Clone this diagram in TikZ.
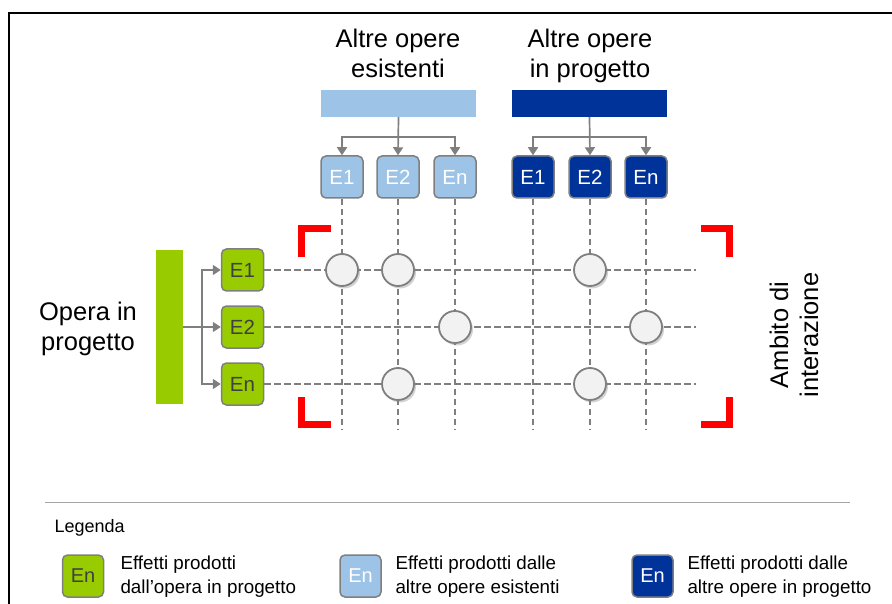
\documentclass[tikz,border=0pt]{standalone}
\usepackage{fontspec}
\setmainfont{Liberation Sans}
\usetikzlibrary{arrows.meta,shadows}
\definecolor{lgreen}{HTML}{99CC00}
\definecolor{lblue}{HTML}{9DC3E6}
\definecolor{dblue}{HTML}{003399}
\definecolor{bord}{HTML}{7F7F7F}
\definecolor{circfill}{HTML}{F2F2F2}
\begin{document}
\begin{tikzpicture}[x=1pt,y=-1pt,
 ebox/.style={draw=bord,line width=1.5pt,rounded corners=5pt,minimum width=42pt,minimum height=42pt,inner sep=0pt,font=\fontsize{20.5}{20.5}\selectfont},
 gbox/.style={ebox,fill=lgreen,text=black!75},
 lbox/.style={ebox,fill=lblue,text=white},
 dbox/.style={ebox,fill=dblue,text=white},
 bar/.style={inner sep=0pt,minimum width=155pt,minimum height=27pt},
 conn/.style={draw=bord,line width=1.7pt},
 arr/.style={conn,-{Triangle[length=8pt,width=10pt]}},
 gridline/.style={draw=bord,line width=2.3pt,dash pattern=on 6.5pt off 3.5pt},
 hit/.style={circle,draw=bord,line width=1.8pt,fill=circfill,minimum size=32pt,inner sep=0pt,drop shadow={shadow xshift=2pt,shadow yshift=-2.5pt,opacity=0.35}},
 bracket/.style={draw=red,line width=7pt},
 title/.style={align=center,font=\fontsize{25.5}{30}\selectfont},
 ltext/.style={align=left,anchor=west,font=\fontsize{18.8}{23.5}\selectfont},
 legbox/.style={minimum width=41pt,minimum height=42pt,font=\fontsize{20}{20}\selectfont}
]
\useasboundingbox (0,0) rectangle (892,604);
% frame
\draw[line width=2pt] (9,604) -- (9,13) -- (892,13);

% titles
\node[title] (tA) at (398,53) {Altre opere\\esistenti};
\node[title] (tB) at (590,55.5) {Altre opere\\in progetto};
\node[title] (tC) at (88,328.5) {Opera in\\progetto};
\node[title,rotate=90] (tD) at (794,335) {Ambito di\\interazione};

% bars
\node[bar,fill=lblue] (barA) at (398.5,103.5) {};
\node[bar,fill=dblue] (barB) at (589.5,103.5) {};
\node[inner sep=0pt,minimum width=27pt,minimum height=154pt,fill=lgreen] (barG) at (169.5,327) {};

% effect boxes
\node[lbox] (a1) at (342,177) {E1};
\node[lbox] (a2) at (398,177) {E2};
\node[lbox] (a3) at (455,177) {En};
\node[dbox] (b1) at (533,177) {E1};
\node[dbox] (b2) at (590,177) {E2};
\node[dbox] (b3) at (646,177) {En};
\node[gbox] (g1) at (242.5,270) {E1};
\node[gbox] (g2) at (242.5,327) {E2};
\node[gbox] (g3) at (242.5,384) {En};

% connectors
\draw[arr] (barA.south) -- (a2.north);
\draw[arr] (barA.south) -- ++(0,20) -| (a1.north);
\draw[arr] (barA.south) -- ++(0,20) -| (a3.north);
\draw[arr] (barB.south) -- (b2.north);
\draw[arr] (barB.south) -- ++(0,20) -| (b1.north);
\draw[arr] (barB.south) -- ++(0,20) -| (b3.north);
\draw[arr] (barG.east) -- (g2.west);
\draw[arr] (barG.east) -- ++(19,0) |- (g1.west);
\draw[arr] (barG.east) -- ++(19,0) |- (g3.west);

% grid
\foreach \n in {a1,a2,a3,b1,b2,b3} \draw[gridline] (\n.south) -- ++(0,231);
\foreach \n in {g1,g2,g3} \draw[gridline] (\n.east) -- ++(432,0);

% interactions
\node[hit] (c1) at (a1 |- g1) {};
\node[hit] (c2) at (a2 |- g1) {};
\node[hit] (c3) at (b2 |- g1) {};
\node[hit] (c4) at (a3 |- g2) {};
\node[hit] (c5) at (b3 |- g2) {};
\node[hit] (c6) at (a2 |- g3) {};
\node[hit] (c7) at (b2 |- g3) {};

% brackets
\draw[bracket] (301.5,257) -- (301.5,228.5) -- (331,228.5);
\draw[bracket] (701,228.5) -- (729.5,228.5) -- (729.5,257);
\draw[bracket] (729.5,397) -- (729.5,424.5) -- (701,424.5);
\draw[bracket] (301.5,397) -- (301.5,424.5) -- (331,424.5);

% legend
\draw[draw=black!35,line width=1pt] (45,502) -- (850,502);
\node[anchor=west,font=\fontsize{18}{18}\selectfont] (leg) at (51,528) {Legenda};
\node[gbox,legbox] (lg) at (83,576) {En};
\node[lbox,legbox] (ll) at (360.5,576) {En};
\node[dbox,legbox] (ld) at (652.5,576) {En};
\node[ltext] (tg) at (117,576.5) {Effetti prodotti\\dall’opera  in progetto};
\node[ltext] (tl) at (392,576.5) {Effetti prodotti dalle\\altre opere esistenti};
\node[ltext] (td) at (684,576.5) {Effetti prodotti dalle\\altre opere in progetto};
\end{tikzpicture}
\end{document}
